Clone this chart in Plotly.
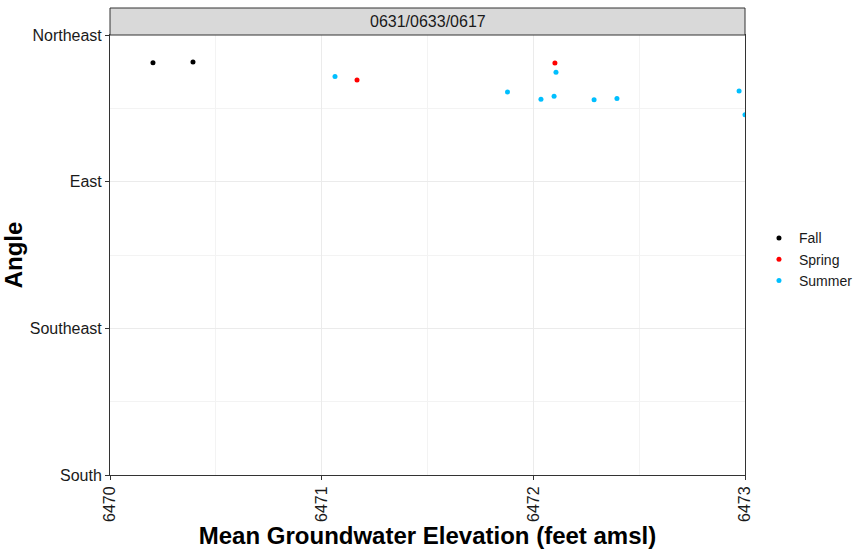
import plotly.graph_objects as go

# Mean groundwater elevation (feet amsl) and flow angle (degrees) by season
fall_elev = [6470.203, 6470.392]
fall_angle = [53.5, 53.3]

spring_elev = [6471.167, 6472.102]
spring_angle = [58.8, 53.6]

summer_elev = [6471.063, 6471.878, 6472.036, 6472.098, 6472.107,
               6472.287, 6472.395, 6472.972, 6473.0]
summer_angle = [57.7, 62.5, 64.7, 63.8, 56.4, 64.9, 64.5, 62.2, 69.5]

angle_ticks = [45, 90, 135, 180]
angle_labels = ["Northeast", "East", "Southeast", "South"]
elev_ticks = [6470, 6471, 6472, 6473]
strip_label = "0631/0633/0617"

series = [
    ("Fall", fall_elev, fall_angle, "#000000"),
    ("Spring", spring_elev, spring_angle, "#ff0000"),
    ("Summer", summer_elev, summer_angle, "#00bfff"),
]

fig = go.Figure()
for name, xs, ys, col in series:
    fig.add_trace(go.Scatter(
        x=xs, y=ys, mode="markers", name=name,
        marker=dict(color=col, size=5),
    ))

font_family = "Liberation Sans, Arial, sans-serif"

fig.update_layout(
    width=859, height=554,
    margin=dict(l=110, r=114, t=35, b=79, autoexpand=False),
    plot_bgcolor="white", paper_bgcolor="white",
    font=dict(family=font_family, color="#1a1a1a"),
    showlegend=True,
    legend=dict(
        x=1.022, xanchor="left", y=0.49, yanchor="middle",
        font=dict(size=14, color="#1a1a1a"),
        bgcolor="rgba(0,0,0,0)", tracegroupgap=0,
    ),
    xaxis=dict(
        range=[6470, 6473], tickvals=elev_ticks,
        ticktext=[str(v) for v in elev_ticks],
        tickangle=-90, tickfont=dict(size=16, color="#1a1a1a"),
        ticks="outside", ticklen=4, tickcolor="#333333",
        showgrid=True, gridcolor="#ebebeb", gridwidth=1.1,
        minor=dict(tickvals=[6470.5, 6471.5, 6472.5], showgrid=True,
                   gridcolor="#f3f3f3", gridwidth=0.6),
        showline=True, linecolor="#333333", linewidth=1, mirror=True,
        zeroline=False, automargin=False,
        title=dict(text="<b>Mean Groundwater Elevation (feet amsl)</b>",
                   font=dict(size=24, color="#000000"), standoff=6),
    ),
    yaxis=dict(
        range=[180, 45], tickvals=angle_ticks, ticktext=angle_labels,
        tickfont=dict(size=16, color="#1a1a1a"),
        ticks="outside", ticklen=4, tickcolor="#333333",
        showgrid=True, gridcolor="#ebebeb", gridwidth=1.1,
        minor=dict(tickvals=[67.5, 112.5, 157.5], showgrid=True,
                   gridcolor="#f3f3f3", gridwidth=0.6),
        showline=True, linecolor="#333333", linewidth=1, mirror=True,
        zeroline=False, automargin=False,
        title=dict(text="<b>Angle</b>", font=dict(size=24, color="#000000"),
                   standoff=6),
    ),
)

# facet strip above the panel
strip_h = 27 / 440
fig.add_shape(type="rect", xref="paper", yref="paper",
              x0=0, x1=1, y0=1, y1=1 + strip_h,
              fillcolor="#d9d9d9", line=dict(color="#333333", width=1),
              layer="above")
fig.add_annotation(xref="paper", yref="paper", x=0.5, y=1 + strip_h / 2,
                   text=strip_label, showarrow=False,
                   font=dict(size=16, color="#1a1a1a"),
                   xanchor="center", yanchor="middle")

fig.write_html("out.html")
